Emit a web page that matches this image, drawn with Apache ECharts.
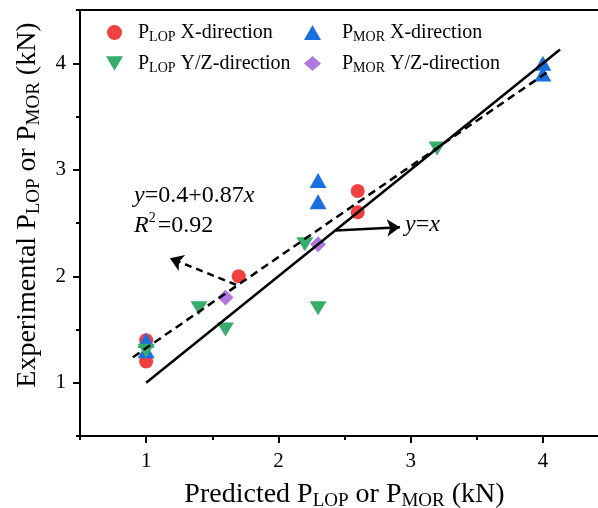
<!DOCTYPE html>
<html>
<head>
<meta charset="utf-8">
<script src="https://cdn.jsdelivr.net/npm/echarts@6/dist/echarts.min.js"></script>
<style>
  html, body { margin: 0; padding: 0; background: #fff; }
  #chart { width: 598px; height: 508px; }
</style>
</head>
<body>
<div id="chart"></div>
<script>
// point data: [predicted, experimental]
const lopX = [[1, 1.4], [1, 1.2], [1.7, 2.0], [2.6, 2.8], [2.6, 2.6]];
const morX = [[1, 1.4], [1, 1.3], [2.3, 2.9], [2.3, 2.7], [4, 4.0], [4, 3.9]];
const lopYZ = [[1, 1.3], [1.4, 1.7], [1.6, 1.5], [2.2, 2.3], [2.3, 1.7], [3.2, 3.2]];
const morYZ = [[1.6, 1.8], [2.3, 2.3]];

// reference line y=x and fitted line ends
const equalLine = [[1, 1], [4.13, 4.13]];
const fitLine = [[0.9, 1.24], [4.05, 3.93]];

// annotation arrows (tail -> head)
const fitArrow = [[1.68, 1.92], [1.18, 2.17]];
const equalArrow = [[2.43, 2.43], [2.92, 2.46]];

const majorTicks = [1, 2, 3, 4];
const minorTicks = [0.5, 1.5, 2.5, 3.5, 4.5];

const FONT = 'Liberation Serif';
const downTri = 'path://M0,0L20,0L10,17Z';

const legendRich = (gap) => ({
  f: { fontFamily: FONT, fontSize: 20, color: '#000', lineHeight: 24, padding: [0, 0, 0, gap] },
  n: { fontFamily: FONT, fontSize: 20, color: '#000', lineHeight: 24 },
  s: { fontFamily: FONT, fontSize: 14, color: '#000', lineHeight: 24, padding: [9, 0, 0, 0] }
});
const legendFmt = (name) => {
  const parts = name.split('|');
  return '{f|P}{s|' + parts[0] + '}{n| ' + parts[1] + '}';
};

const titleRich = {
  n: { fontFamily: FONT, fontSize: 28, color: '#000' },
  s: { fontFamily: FONT, fontSize: 19, color: '#000', padding: [13, 0, 0, 0] }
};

const axisBase = (extra) => Object.assign({
  type: 'value', min: 0.5, max: 4.5,
  splitLine: { show: false },
  axisLine: { onZero: false, lineStyle: { color: '#000', width: 2 } }
}, extra);

const getOption = () => {
  return {
    animation: false,
    grid: { left: 80, top: 10, right: -11, bottom: 72, outerBoundsMode: 'none', containLabel: false },
    legend: [
      {
        left: 106, top: 21, orient: 'vertical', itemGap: 8, padding: 0,
        itemWidth: 17, itemHeight: 15,
        data: ['LOP|X-direction', 'LOP|Y/Z-direction'],
        formatter: legendFmt,
        textStyle: { rich: legendRich(10) }
      },
      {
        left: 304, top: 21, orient: 'vertical', itemGap: 8, padding: 0,
        itemWidth: 17, itemHeight: 15,
        data: ['MOR|X-direction', 'MOR|Y/Z-direction'],
        formatter: legendFmt,
        textStyle: { rich: legendRich(16) }
      }
    ],
    xAxis: [
      axisBase({
        name: '{n|Predicted P}{s|LOP}{n| or P}{s|MOR}{n| (kN)}',
        nameLocation: 'middle', nameGap: 43,
        nameTextStyle: { rich: titleRich },
        axisTick: { show: true, length: 7, customValues: majorTicks, lineStyle: { color: '#000', width: 2 } },
        axisLabel: { fontFamily: FONT, fontSize: 21, color: '#000', margin: 15, customValues: majorTicks }
      }),
      axisBase({
        position: 'bottom',
        axisLine: { show: false, onZero: false },
        axisTick: { show: true, length: 4, customValues: minorTicks, lineStyle: { color: '#000', width: 2 } },
        axisLabel: { show: false }
      })
    ],
    yAxis: [
      axisBase({
        name: '{n|Experimental P}{s|LOP}{n| or P}{s|MOR}{n| (kN)}',
        nameLocation: 'middle', nameGap: 36,
        nameTextStyle: { rich: titleRich, padding: [0, 0, 0, 36] },
        axisTick: { show: true, length: 7, customValues: majorTicks, lineStyle: { color: '#000', width: 2 } },
        axisLabel: { fontFamily: FONT, fontSize: 21, color: '#000', margin: 14, customValues: majorTicks }
      }),
      axisBase({
        position: 'left',
        axisLine: { show: false, onZero: false },
        axisTick: { show: true, length: 4, customValues: minorTicks, lineStyle: { color: '#000', width: 2 } },
        axisLabel: { show: false }
      })
    ],
    graphic: [
      // top frame line
      { type: 'line', shape: { x1: 80, y1: 10, x2: 598, y2: 10 }, style: { stroke: '#000', lineWidth: 2 } },
      {
        type: 'text', left: 134, top: 184,
        style: {
          text: '{i|y}{n|=0.4+0.87}{i|x}\n{i|R}{p|2}{n|=0.92}',
          rich: {
            i: { fontFamily: FONT, fontSize: 24, fontStyle: 'italic', fill: '#000', lineHeight: 30 },
            n: { fontFamily: FONT, fontSize: 24, fill: '#000', lineHeight: 30 },
            p: { fontFamily: FONT, fontSize: 14, fill: '#000', verticalAlign: 'top', padding: [0, 2, 12, 0] }
          }
        }
      },
      {
        type: 'text', left: 405, top: 213,
        style: {
          text: '{i|y}{n|=}{i|x}',
          rich: {
            i: { fontFamily: FONT, fontSize: 24, fontStyle: 'italic', fill: '#000' },
            n: { fontFamily: FONT, fontSize: 24, fill: '#000' }
          }
        }
      }
    ],
    series: [
      {
        name: 'LOP|X-direction', type: 'scatter', data: lopX,
        symbol: 'circle', symbolSize: 14, itemStyle: { color: '#F14040', opacity: 1 }, z: 2
      },
      {
        name: 'MOR|X-direction', type: 'scatter', data: morX,
        symbol: 'triangle', symbolSize: [17, 15], itemStyle: { color: '#1A6FDF', opacity: 1 }, z: 2
      },
      {
        name: 'LOP|Y/Z-direction', type: 'scatter', data: lopYZ,
        symbol: downTri, symbolSize: [17, 14], itemStyle: { color: '#37AD6B', opacity: 1 }, z: 2
      },
      {
        name: 'MOR|Y/Z-direction', type: 'scatter', data: morYZ,
        symbol: 'diamond', symbolSize: 16, itemStyle: { color: '#B177DE', opacity: 1 }, z: 2
      },
      {
        name: 'y=x', type: 'line', data: equalLine, showSymbol: false, symbol: 'none',
        lineStyle: { color: '#000', width: 2.5 }, z: 5
      },
      {
        name: 'fit', type: 'line', data: fitLine, showSymbol: false, symbol: 'none',
        lineStyle: { color: '#000', width: 2.5, type: [8, 5] }, z: 5
      },
      {
        type: 'lines', coordinateSystem: 'cartesian2d', z: 6,
        symbol: ['none', 'arrow'], symbolSize: 13,
        lineStyle: { color: '#000', width: 2.5, type: [7, 5], opacity: 1 },
        data: [{ coords: fitArrow }]
      },
      {
        type: 'lines', coordinateSystem: 'cartesian2d', z: 6,
        symbol: ['none', 'arrow'], symbolSize: 13,
        lineStyle: { color: '#000', width: 2.5, opacity: 1 },
        data: [{ coords: equalArrow }]
      }
    ]
  };
};

const chart = echarts.init(document.getElementById('chart'));
chart.setOption(getOption());
</script>
</body>
</html>
